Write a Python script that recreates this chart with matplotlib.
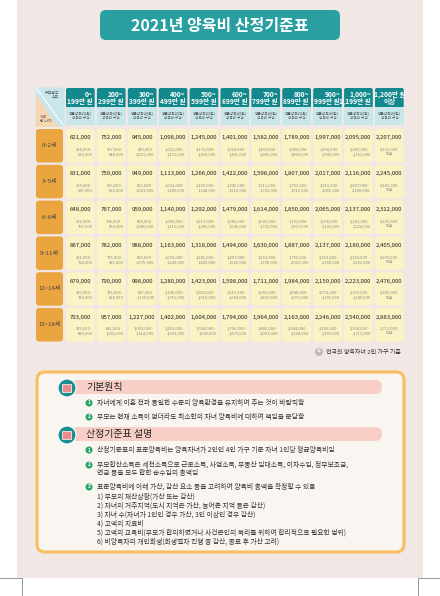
import matplotlib
matplotlib.use('Agg')
import matplotlib.pyplot as plt
from matplotlib.patches import FancyBboxPatch, Rectangle, Circle

plt.rcParams['font.family'] = ['Noto Sans CJK KR', 'DejaVu Sans']

title = "2021년 양육비 산정기준표"
income = ["0~\n199만 원", "200~\n299만 원", "300~\n399만 원", "400~\n499만 원", "500~\n599만 원",
          "600~\n699만 원", "700~\n799만 원", "800~\n899만 원", "900~\n999만 원", "1,000~\n1,199만 원",
          "1,200만 원\n이상"]
ages = ["0~2세", "3~5세", "6~8세", "9~11세", "12~14세", "15~18세"]

mean = [
    [621000, 752000, 945000, 1098000, 1245000, 1401000, 1582000, 1789000, 1997000, 2095000, 2207000],
    [631000, 759000, 949000, 1113000, 1266000, 1422000, 1598000, 1807000, 2017000, 2116000, 2245000],
    [648000, 767000, 959000, 1140000, 1292000, 1479000, 1614000, 1850000, 2065000, 2137000, 2312000],
    [667000, 782000, 988000, 1163000, 1318000, 1494000, 1630000, 1887000, 2137000, 2180000, 2405000],
    [679000, 790000, 998000, 1280000, 1423000, 1598000, 1711000, 1984000, 2159000, 2223000, 2476000],
    [703000, 957000, 1227000, 1402000, 1604000, 1794000, 1964000, 2163000, 2246000, 2540000, 2883000],
]
range_low = [
    [264000, 687000, 849000, 1022000, 1172000, 1324000, 1492000, 1686000, 1894000, 2047000, 2152000],
    [268000, 696000, 855000, 1032000, 1190000, 1345000, 1511000, 1703000, 1913000, 2067000, 2181000],
    [272000, 708000, 864000, 1050000, 1217000, 1386000, 1547000, 1733000, 1958000, 2102000, 2225000],
    [281000, 725000, 886000, 1076000, 1241000, 1407000, 1563000, 1759000, 2013000, 2159000, 2293000],
    [295000, 735000, 895000, 1140000, 1352000, 1511000, 1655000, 1848000, 2072000, 2192000, 2350000],
    [319000, 831000, 1093000, 1315000, 1504000, 1700000, 1880000, 2064000, 2205000, 2394000, 2712000],
]
range_high = [
    [686000, 848000, 1021000, 1171000, 1323000, 1491000, 1685000, 1893000, 2046000, 2151000, None],
    [695000, 854000, 1031000, 1189000, 1344000, 1510000, 1702000, 1912000, 2066000, 2180000, None],
    [707000, 863000, 1049000, 1216000, 1385000, 1546000, 1732000, 1957000, 2101000, 2224000, None],
    [724000, 885000, 1075000, 1240000, 1406000, 1562000, 1758000, 2012000, 2158000, 2292000, None],
    [734000, 894000, 1139000, 1351000, 1510000, 1654000, 1847000, 2071000, 2191000, 2349000, None],
    [830000, 1092000, 1314000, 1503000, 1699000, 1879000, 2063000, 2204000, 2393000, 2711000, None],
]

principles = ["자녀에게 이혼 전과 동일한 수준의 양육환경을 유지하여 주는 것이 바람직함",
              "부모는 현재 소득이 없더라도 최소한의 자녀 양육비에 대하여 책임을 분담함"]
notes = [["산정기준표의 표준양육비는 양육자녀가 2인인 4인 가구 기준 자녀 1인당 평균양육비임"],
         ["부모합산소득은 세전소득으로 근로소득, 사업소득, 부동산 임대소득, 이자수입, 정부보조금,",
          "연금 등을 모두 합한 순수입의 총액임"],
         ["표준양육비에 아래 가산, 감산 요소 등을 고려하여 양육비 총액을 확정할 수 있음",
          "1) 부모의 재산상황(가산 또는 감산)",
          "2) 자녀의 거주지역(도시 지역은 가산, 농어촌 지역 등은 감산)",
          "3) 자녀 수(자녀가 1인인 경우 가산, 3인 이상인 경우 감산)",
          "4) 고액의 치료비",
          "5) 고액의 교육비(부모가 합의하였거나 사건본인의 복리를 위하여 합리적으로 필요한 범위)",
          "6) 비양육자의 개인회생(회생절차 진행 중 감산, 종료 후 가산 고려)"]]

fig = plt.figure(figsize=(4.4, 5.96), dpi=100)
ax = fig.add_axes([0, 0, 1, 1])
ax.set_xlim(0, 440)
ax.set_ylim(596, 0)
ax.axis('off')

def rbox(x, y, w, h, fc, ec='none', lw=0, r=3, z=1):
    ax.add_patch(FancyBboxPatch((x + r, y + r), w - 2 * r, h - 2 * r,
                                boxstyle=f"round,pad={r}", fc=fc, ec=ec, lw=lw, zorder=z))

# page background
ax.add_patch(Rectangle((17, 0), 406, 578, fc='#f1e7e4', ec='none', zorder=0))
# crop marks
for xx in (22, 418):
    ax.plot([xx, xx], [578, 596], color='#888888', lw=0.6)
ax.plot([0, 22], [578, 578], color='#888888', lw=0.6)
ax.plot([418, 440], [578, 578], color='#888888', lw=0.6)

# title banner
rbox(100, 10, 240, 30, '#2a9fa1', r=6)
ax.text(220, 26, title, ha='center', va='center', color='white', fontsize=11.5, fontweight='bold')

x0, cw, gap = 66, 28.7, 2.2
row_y0, rh, rgap = 129, 33.5, 2.3

# corner header cell
ax.add_patch(FancyBboxPatch((37, 89), 26, 36, boxstyle="round,pad=1.5", fc='#c9e6ea', ec='none'))
ax.add_patch(plt.Polygon([(35.5, 95), (35.5, 126.5), (58, 126.5)], fc='#f6d7b0', ec='none'))
ax.plot([37, 63], [89, 125], color='white', lw=0.8)
ax.text(59, 95, "부모합산\n소득", ha='right', va='center', fontsize=2.8, color='#555555', linespacing=1.1)
ax.text(40, 119, "자녀\n만 나이", ha='left', va='center', fontsize=2.8, color='#555555', linespacing=1.1)

for j, lab in enumerate(income):
    x = x0 + j * (cw + gap)
    rbox(x, 88, cw, 20, '#13898d', r=2)
    ax.add_patch(Rectangle((x, 107), cw, 18, fc='#c9e6ea', ec='none'))
    last = j == len(income) - 1
    ax.text(x + cw / 2 if last else x + cw - 2, 98, lab, ha='center' if last else 'right', va='center',
            color='white', fontsize=4.8, fontweight='bold', linespacing=1.0)
    ax.text(x + cw / 2, 116, "평균양육비(원)\n양육비 구간", ha='center', va='center', color='#555555',
            fontsize=2.6, linespacing=1.3)

for i, age in enumerate(ages):
    y = row_y0 + i * (rh + rgap)
    rbox(36, y, 27, rh, '#eba53f', r=3)
    ax.text(49.5, y + rh / 2, age, ha='center', va='center', fontsize=4.3, color='#444444')
    for j in range(len(income)):
        x = x0 + j * (cw + gap)
        rbox(x, y, cw, rh, '#faf3c3', r=3)
        ax.text(x + cw / 2, y + 9, f"{mean[i][j]:,}", ha='center', va='center', fontsize=4.3, color='#222222')
        hi = range_high[i][j]
        rng = f"{range_low[i][j]:,}~\n{hi:,}" if hi else f"{range_low[i][j]:,}\n이상"
        ax.text(x + cw - 2 if hi else x + cw / 2, y + 23, rng, ha='right' if hi else 'center', va='center',
                fontsize=2.9, color='#888888', linespacing=1.3)

ax.add_patch(Circle((319, 352), 4, fc='#bbbbbb', ec='none'))
ax.text(319, 352, "주", ha='center', va='center', fontsize=3, color='white')
ax.text(326, 352, "전국의 양육자녀 2인 가구 기준", ha='left', va='center', fontsize=4.3, color='#333333')

# lower info box
rbox(37, 372, 367, 180, '#f9f5f1', ec='#f7bf60', lw=2.2, r=8)

def section(y, label):
    rbox(70, y - 7, 312, 14, '#f7cfc6', r=7)
    ax.add_patch(Circle((67, y + 1), 9, fc='#1a8f8f', ec='white', lw=0.8, zorder=3))
    ax.add_patch(Rectangle((62, y - 3), 9, 8, fc='#f08a8a', ec='white', lw=0.5, zorder=4))
    ax.text(86, y, label, ha='left', va='center', fontsize=7.2, color='#222222')

def bullet(x, y, n):
    ax.add_patch(Circle((x, y), 3.5, fc='#25a464', ec='none', zorder=3))
    ax.text(x, y, str(n), ha='center', va='center', fontsize=3.5, color='white', fontweight='bold', zorder=4)

section(387, "기본원칙")
for k, t in enumerate(principles):
    yy = 403 + k * 14
    bullet(89, yy, k + 1)
    ax.text(97, yy, t, ha='left', va='center', fontsize=4.9, color='#333333')

section(434, "산정기준표 설명")
starts = [450, 465, 487]
for k, lines in enumerate(notes):
    bullet(89, starts[k], k + 1)
    step = 8.5 if k == 1 else 9.1
    for m, t in enumerate(lines):
        ax.text(97, starts[k] + m * step, t, ha='left', va='center', fontsize=4.9, color='#333333')

fig.savefig('out.png', dpi=100, facecolor='white')
